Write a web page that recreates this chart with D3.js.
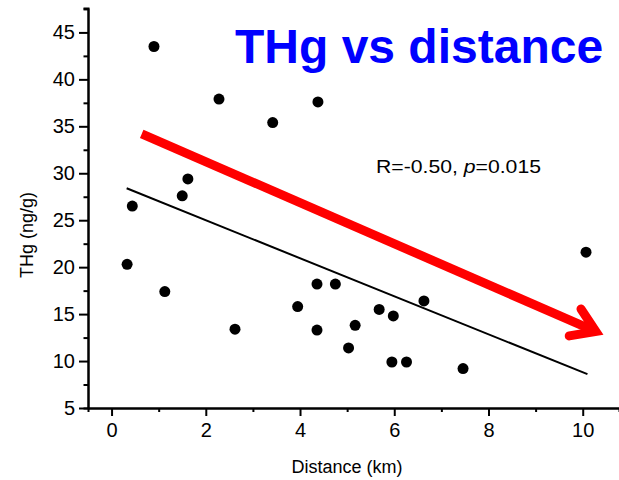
<!DOCTYPE html>
<html>
<head>
<meta charset="utf-8">
<script src="https://cdn.jsdelivr.net/npm/d3@7"></script>
<style>
  body { margin: 0; background: #fff; }
  svg { display: block; font-family: "Liberation Sans", Arial, sans-serif; }
</style>
</head>
<body>
<svg id="chart"></svg>
<script>
// data
const distance = [0.90, 2.28, 3.42, 4.38, 1.62, 1.50, 0.44, 0.33, 1.13, 2.62, 4.36, 4.75, 3.95, 5.68, 5.98, 6.63, 4.36, 5.17, 5.03, 5.95, 6.26, 7.46, 10.07];
const thg      = [43.5, 37.9, 35.4, 37.6, 29.4, 27.6, 26.5, 20.3, 17.4, 13.4, 18.2, 18.2, 15.8, 15.5, 14.8, 16.4, 13.3, 13.8, 11.4, 9.9, 9.9, 9.2, 21.6];
const fitX = [0.32, 10.1];   // linear fit end points
const fitY = [28.4, 8.6];
const arrowX = [0.64, 10.44]; // red trend arrow (start, tip)
const arrowY = [34.2, 12.8];
const yTicks = [5, 10, 15, 20, 25, 30, 35, 40, 45];
const xTicks = [0, 2, 4, 6, 8, 10];

const W = 619, H = 480;
const margin = {top: 8, right: 0, bottom: 72, left: 88};
const width = W - margin.left - margin.right;
const height = H - margin.top - margin.bottom;

const svgElem = d3.select("#chart").attr("width", W).attr("height", H);
const svg = svgElem.append("g").attr("transform", `translate(${margin.left},${margin.top})`);

const x = d3.scaleLinear().domain([-0.5, 10.77]).range([0, width]);
const y = d3.scaleLinear().domain([5, 47.6]).range([height, 0]);

// minor ticks first (short)
const xAxisMinor = d3.axisBottom(x).tickValues([1, 3, 5, 7, 9]).tickSize(4).tickFormat("");
const yAxisMinor = d3.axisLeft(y).tickValues(d3.range(7.5, 47.6, 5)).tickSize(4.5).tickFormat("");
svg.append("g").attr("transform", `translate(0,${height})`).call(xAxisMinor);
svg.append("g").call(yAxisMinor);

const xAxis = d3.axisBottom(x).tickValues(xTicks).tickSize(8).tickPadding(7).tickSizeOuter(0);
const yAxis = d3.axisLeft(y).tickValues(yTicks).tickSize(9).tickPadding(4).tickSizeOuter(0);

svg.append("g").attr("class", "x-axis").attr("transform", `translate(0,${height})`).call(xAxis);
svg.append("g").attr("class", "y-axis").call(yAxis);

svg.selectAll(".domain, .tick line").attr("stroke", "#000").attr("stroke-width", 2);
svg.selectAll(".tick text").attr("fill", "#000").style("font-size", "20px")
  .style("font-family", "'Liberation Sans', Arial, sans-serif");

// fit line
svg.append("line")
  .attr("x1", x(fitX[0])).attr("y1", y(fitY[0]))
  .attr("x2", x(fitX[1])).attr("y2", y(fitY[1]))
  .attr("stroke", "#000").attr("stroke-width", 2);

// points
svg.selectAll("circle.pt")
  .data(distance.map((d, i) => ({d: d, v: thg[i]})))
  .enter().append("circle")
  .attr("class", "pt")
  .attr("cx", p => x(p.d))
  .attr("cy", p => y(p.v))
  .attr("r", 5.5)
  .attr("fill", "#000");

// red arrow
const ax0 = x(arrowX[0]), ay0 = y(arrowY[0]);
const ax1 = x(arrowX[1]), ay1 = y(arrowY[1]);
const ang = Math.atan2(ay1 - ay0, ax1 - ax0);
const half = 33 * Math.PI / 180, armLen = 27, sw = 9;
const back = (sw / 2) / Math.sin(half); // miter overshoot
const vx = ax1 - back * Math.cos(ang), vy = ay1 - back * Math.sin(ang);
svg.append("line")
  .attr("x1", ax0).attr("y1", ay0)
  .attr("x2", vx - 6 * Math.cos(ang)).attr("y2", vy - 6 * Math.sin(ang))
  .attr("stroke", "#ff0000").attr("stroke-width", sw);
const arm = s => [vx - armLen * Math.cos(ang + s * half), vy - armLen * Math.sin(ang + s * half)];
svg.append("path")
  .attr("d", d3.line()([arm(1), [vx, vy], arm(-1)]))
  .attr("fill", "none").attr("stroke", "#ff0000").attr("stroke-width", sw)
  .attr("stroke-linejoin", "miter").attr("stroke-linecap", "round");

// labels
svgElem.append("text")
  .attr("x", 235).attr("y", 63)
  .attr("fill", "#0000ff")
  .style("font-size", "48px").style("font-weight", "bold")
  .text("THg vs distance");

const stat = svgElem.append("text").attr("x", 376).attr("y", 173)
  .attr("textLength", 165).attr("lengthAdjust", "spacingAndGlyphs")
  .style("font-size", "19px").attr("fill", "#000");
stat.append("tspan").text("R=-0.50, ");
stat.append("tspan").style("font-style", "italic").text("p");
stat.append("tspan").text("=0.015");

svgElem.append("text")
  .attr("x", 347).attr("y", 473)
  .attr("text-anchor", "middle").style("font-size", "18px")
  .text("Distance (km)");

svgElem.append("text")
  .attr("transform", "translate(33,235) rotate(-90)")
  .attr("text-anchor", "middle").style("font-size", "18px")
  .text("THg (ng/g)");
</script>
</body>
</html>
